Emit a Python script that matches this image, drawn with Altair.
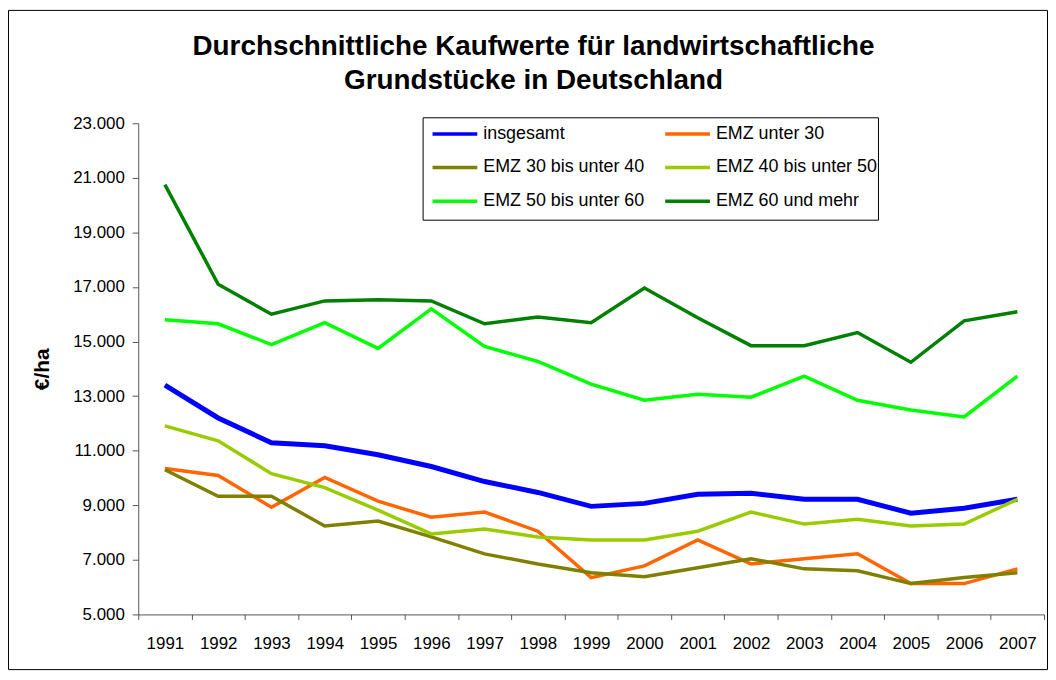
import altair as alt
import pandas as pd

years = [str(y) for y in range(1991, 2008)]
series_names = ["insgesamt", "EMZ unter 30", "EMZ 30 bis unter 40",
                "EMZ 40 bis unter 50", "EMZ 50 bis unter 60", "EMZ 60 und mehr"]
colors = ["#0000FF", "#FF6600", "#808000", "#99CC00", "#00FF00", "#008000"]
title_lines = ["Durchschnittliche Kaufwerte für landwirtschaftliche",
               "Grundstücke in Deutschland"]

insgesamt = [13400, 12200, 11290, 11180, 10850, 10420, 9870, 9470, 8960, 9070, 9400, 9440, 9220, 9220, 8710, 8890, 9220]
emz_u30 = [10350, 10090, 8930, 10020, 9150, 8560, 8750, 8050, 6350, 6780, 7730, 6850, 7040, 7220, 6130, 6130, 6670]
emz_30_40 = [10300, 9330, 9330, 8240, 8420, 7840, 7220, 6850, 6530, 6380, 6710, 7040, 6670, 6600, 6130, 6350, 6530]
emz_40_50 = [11910, 11360, 10160, 9650, 8820, 7950, 8130, 7840, 7730, 7730, 8050, 8750, 8310, 8490, 8240, 8310, 9220]
emz_50_60 = [15800, 15650, 14890, 15690, 14750, 16200, 14820, 14270, 13440, 12850, 13070, 12960, 13730, 12850, 12490, 12240, 13730]
emz_60 = [20750, 17100, 16000, 16490, 16530, 16490, 15650, 15900, 15690, 16960, 15870, 14850, 14850, 15330, 14240, 15760, 16090]

y_ticks = [5000, 7000, 9000, 11000, 13000, 15000, 17000, 19000, 21000, 23000]

all_series = [insgesamt, emz_u30, emz_30_40, emz_40_50, emz_50_60, emz_60]
rows = []
for name, vals in zip(series_names, all_series):
    for yr, v in zip(years, vals):
        rows.append({"series": name, "year": yr, "value": v})
df = pd.DataFrame(rows)

FONT = "Liberation Sans"
W, H = 911, 494

lines = alt.Chart(df).mark_line(strokeJoin="miter").encode(
    x=alt.X("year:O", bandPosition=0.5,
            scale=alt.Scale(type="band", domain=years, paddingInner=0, paddingOuter=0),
            axis=alt.Axis(title=None, labelAngle=0, tickBand="extent", labelFontSize=17,
                          labelFont=FONT, labelColor="black", labelPadding=16,
                          domainColor="#555555", tickColor="#555555", tickSize=5, grid=False)),
    y=alt.Y("value:Q",
            scale=alt.Scale(domain=[5000, 23000], nice=False, zero=False),
            axis=alt.Axis(values=y_ticks, title="€/ha", grid=False,
                          labelExpr="replace(format(datum.value, ',.0f'), ',', '.')",
                          labelFontSize=17, labelFont=FONT, labelColor="black", labelPadding=8,
                          domainColor="#555555", tickColor="#555555", tickSize=6,
                          titleFont=FONT, titleFontSize=21, titleFontWeight="bold",
                          titleColor="black", titleAngle=-90, titleX=-96, titleY=247,
                          titleAlign="center", titleBaseline="middle")),
    color=alt.Color("series:N",
                    scale=alt.Scale(domain=series_names, range=colors),
                    legend=alt.Legend(title=None, orient="none", legendX=285, legendY=-23,
                                      columns=2, direction="horizontal",
                                      symbolType="stroke", symbolSize=2025,
                                      symbolStrokeWidth=3.5, labelFontSize=18, labelFont=FONT,
                                      labelColor="black", labelLimit=400, labelOffset=4,
                                      padding=9, rowPadding=0, columnPadding=13)),
    strokeWidth=alt.condition("datum.series === 'insgesamt'", alt.value(5), alt.value(3.5)),
    order=alt.Order("year:O"),
)

frame = alt.Chart(alt.Data(values=[{"k": 1}])).mark_rect(
    filled=False, stroke="black", strokeWidth=1
).encode(
    x=alt.value(-130.5), x2=alt.value(W + 3.5),
    y=alt.value(-113.5), y2=alt.value(H + 55.5),
)

legend_box = alt.Chart(alt.Data(values=[{"k": 1}])).mark_rect(
    fill="white", stroke="black", strokeWidth=1
).encode(
    x=alt.value(286.5), x2=alt.value(744.5),
    y=alt.value(-5.5), y2=alt.value(97.5),
)

title1 = alt.Chart(alt.Data(values=[{"t": title_lines[0]}])).mark_text(
    font=FONT, fontSize=28, fontWeight="bold", color="black",
    align="center", baseline="middle"
).encode(text="t:N", x=alt.value(397.5), y=alt.value(-77))

title2 = alt.Chart(alt.Data(values=[{"t": title_lines[1]}])).mark_text(
    font=FONT, fontSize=28, fontWeight="bold", color="black",
    align="center", baseline="middle"
).encode(text="t:N", x=alt.value(397.5), y=alt.value(-42))

chart = alt.layer(frame, title1, title2, lines, legend_box).properties(
    width=W, height=H,
    autosize=alt.AutoSizeParams(type="none"),
    padding={"left": 131, "top": 114, "right": 4, "bottom": 56},
    background="white",
).configure_view(stroke=None)

chart.save("out.html", embed_options={"renderer": "svg", "actions": False})
